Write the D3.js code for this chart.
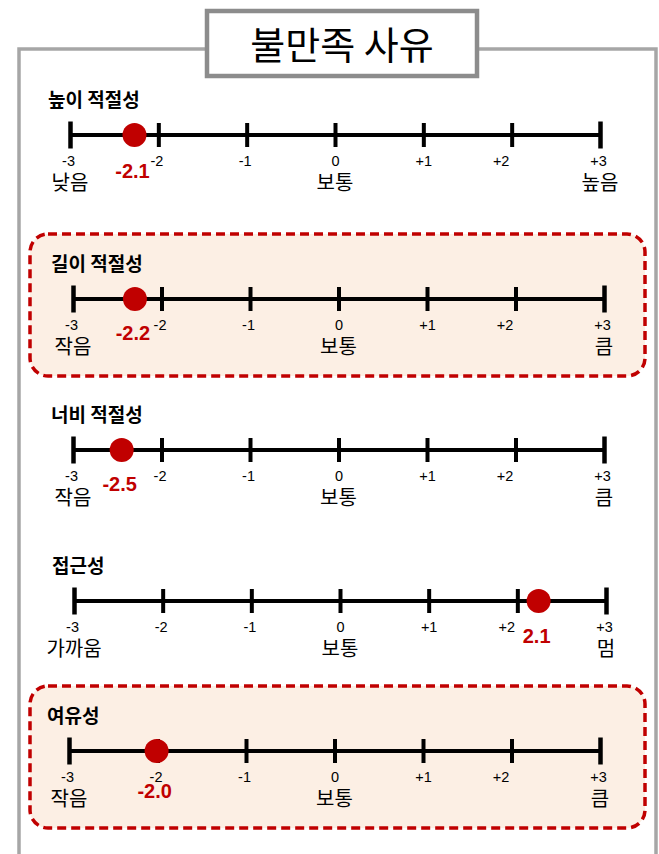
<!DOCTYPE html>
<html>
<head>
<meta charset="utf-8">
<script src="https://cdn.jsdelivr.net/npm/d3@7"></script>
<style>
  body { margin: 0; background: #fff; }
  svg { display: block; }
</style>
</head>
<body>
<div id="chart"></div>
<script>
// Data
var chartTitle = "불만족 사유";
var criteria = ["높이 적절성", "길이 적절성", "너비 적절성", "접근성", "여유성"];
var scoreText = ["-2.1", "-2.2", "-2.5", "2.1", "-2.0"];
// where the red dot sits on each scale (as drawn in the picture)
var dotValues = [-2.27, -2.3, -2.45, 2.24, -2.01];
var lowLabels = ["낮음", "작음", "작음", "가까움", "작음"];
var midLabels = ["보통", "보통", "보통", "보통", "보통"];
var highLabels = ["높음", "큼", "큼", "멈", "큼"];
var highlighted = [false, true, false, false, true];
var tickValues = [-3, -2, -1, 0, 1, 2, 3];
var tickLabels = ["-3", "-2", "-1", "0", "+1", "+2", "+3"];

// Layout
var svgWidth = 659;
var svgHeight = 854;
var rowY = [135, 299, 450, 601, 751];
var rowX0 = [70, 73, 73, 74, 69];
var rowX1 = [600, 604, 604, 606, 600];
var valueDy = [43, 41, 41, 42, 47];

var red = "#c00000";
var numFont = "'Liberation Sans', Arial, sans-serif";
var korFont = "'Noto Sans CJK KR', 'Noto Sans', sans-serif";

var svg = d3.select("#chart")
  .append("svg")
  .attr("width", svgWidth)
  .attr("height", svgHeight);

// outer grey frame
svg.append("rect")
  .attr("x", 19)
  .attr("y", 49)
  .attr("width", 637)
  .attr("height", 900)
  .attr("fill", "none")
  .attr("stroke", "#a6a6a6")
  .attr("stroke-width", 3.5);

// title box
svg.append("rect")
  .attr("x", 207)
  .attr("y", 11)
  .attr("width", 270)
  .attr("height", 65)
  .attr("fill", "#fff")
  .attr("stroke", "#8c8c8c")
  .attr("stroke-width", 4.5);

svg.append("text")
  .attr("x", 342)
  .attr("y", 59)
  .attr("text-anchor", "middle")
  .attr("font-family", korFont)
  .attr("font-size", 38)
  .attr("fill", "#000")
  .text(chartTitle);

criteria.forEach(function (name, i) {
  var y = rowY[i];
  var x = d3.scaleLinear()
    .domain([-3, 3])
    .range([rowX0[i], rowX1[i]]);

  var row = svg.append("g").attr("class", "row");

  // highlighted rows get the dashed peach box
  if (highlighted[i]) {
    row.append("rect")
      .attr("x", 30)
      .attr("y", y - 65)
      .attr("width", 615)
      .attr("height", 142)
      .attr("rx", 18)
      .attr("ry", 18)
      .attr("fill", "#fcefe4")
      .attr("stroke", red)
      .attr("stroke-width", 3.5)
      .attr("stroke-dasharray", "9,5");
  }

  row.append("text")
    .attr("x", rowX0[i] - 22)
    .attr("y", y - 28)
    .attr("font-family", korFont)
    .attr("font-weight", "bold")
    .attr("font-size", 19)
    .attr("fill", "#000")
    .text(name);

  // main line
  row.append("line")
    .attr("x1", x(-3))
    .attr("x2", x(3))
    .attr("y1", y)
    .attr("y2", y)
    .attr("stroke", "#000")
    .attr("stroke-width", 4);

  // ticks and numbers
  var axis = d3.axisBottom(x)
    .tickValues(tickValues)
    .tickFormat(function (d, k) { return tickLabels[k]; })
    .tickSizeInner(24)
    .tickSizeOuter(0)
    .tickPadding(9);

  var axisG = row.append("g")
    .attr("transform", `translate(0, ${y - 12})`)
    .call(axis);

  axisG.select(".domain").remove();
  axisG.selectAll(".tick line")
    .attr("stroke", "#000")
    .attr("stroke-width", 4);
  axisG.selectAll(".tick")
    .filter(function (d) { return d === -3 || d === 3; })
    .select("line")
    .attr("y1", -1.5)
    .attr("y2", 25.5)
    .attr("stroke-width", 4.5);
  axisG.selectAll(".tick text")
    .attr("font-family", numFont)
    .attr("font-size", 14.5)
    .attr("fill", "#000")
    .attr("dx", d => d === 2 ? -11 : (d === 0 || d === 1 ? 0 : -2));

  // scale end / middle words
  var words = [
    { v: -3, t: lowLabels[i] },
    { v: 0, t: midLabels[i] },
    { v: 3, t: highLabels[i] }
  ];
  row.selectAll("text.word")
    .data(words)
    .enter()
    .append("text")
    .attr("class", "word")
    .attr("x", d => x(d.v))
    .attr("y", y + 55)
    .attr("text-anchor", "middle")
    .attr("font-family", korFont)
    .attr("font-size", 20)
    .attr("fill", "#000")
    .text(d => d.t);

  // red dot and its score
  row.append("circle")
    .attr("cx", x(dotValues[i]))
    .attr("cy", y)
    .attr("r", 12)
    .attr("fill", red);

  row.append("text")
    .attr("x", x(dotValues[i]) - 2)
    .attr("y", y + valueDy[i])
    .attr("text-anchor", "middle")
    .attr("font-family", numFont)
    .attr("font-weight", "bold")
    .attr("font-size", 20)
    .attr("fill", red)
    .text(scoreText[i]);
});
</script>
</body>
</html>
